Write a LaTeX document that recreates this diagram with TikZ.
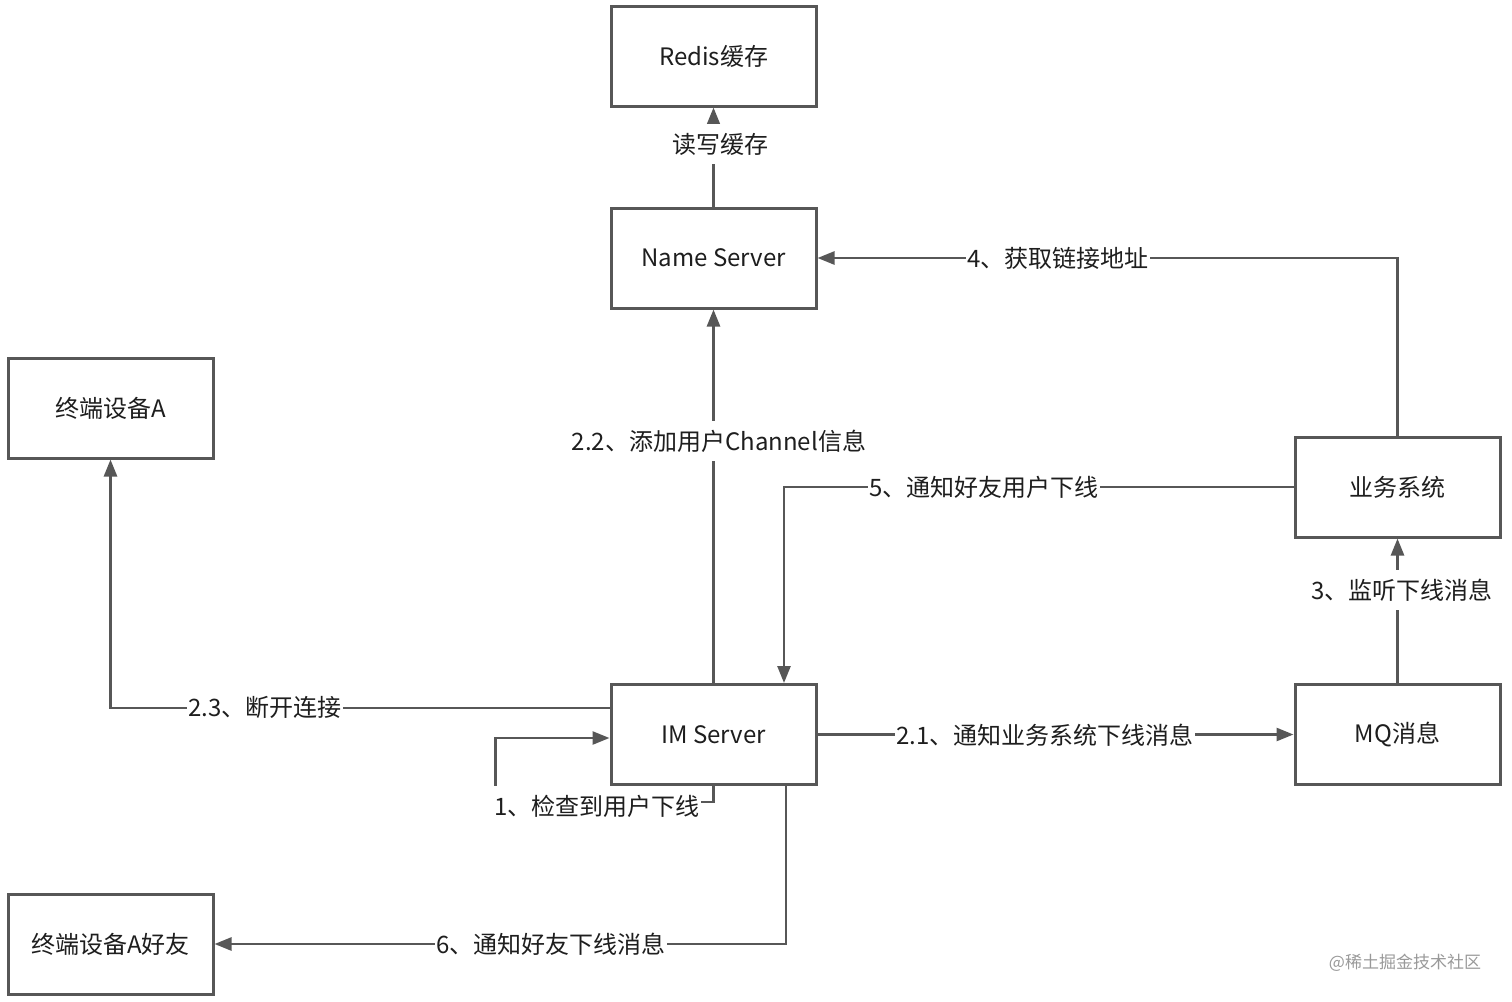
\documentclass[tikz,border=0pt]{standalone}
\usepackage{fontspec}
\newfontfamily\cjk{Noto Sans CJK SC}
\usetikzlibrary{arrows.meta,calc}
\definecolor{edge}{HTML}{575757}
\definecolor{txt}{HTML}{1E1E1E}
\begin{document}
\begin{tikzpicture}[x=1pt,y=-1pt,
  box/.style={draw=edge,line width=3pt,fill=white,minimum width=205pt,minimum height=100pt,inner sep=0pt,font=\cjk\fontsize{24}{28}\selectfont,text=txt},
  conn/.style={draw=edge,line width=2.6pt,-{Triangle[length=17pt,width=13pt]}},
  lbl/.style={fill=white,inner xsep=1pt,inner ysep=9pt,font=\cjk\fontsize{24}{28}\selectfont,text=txt}]
\useasboundingbox (0,0) rectangle (1512,1001);
\node[box] (redis) at (713.5,56) {Redis缓存};
\node[box] (ns) at (713.5,258) {Name Server};
\node[box] (ta) at (110.5,408) {终端设备A};
\node[box] (bus) at (1397.5,487) {业务系统};
\node[box] (im) at (713.5,734.5) {IM Server};
\node[box] (mq) at (1397.5,734.5) {MQ消息};
\node[box] (taf) at (110.5,944) {终端设备A好友};

\draw[conn] (ns.north) -- (redis.south);
\draw[conn] (im.north) -- (ns.south);
\draw[conn] (bus.north) |- (ns.east);
\draw[conn] (bus.west) -| ([xshift=70.5pt]im.north);
\draw[conn] (mq.north) -- (bus.south);
\draw[conn] (im.east) -- (mq.west);
\draw[conn] ([yshift=26.5pt]im.west) -| (ta.south);
\draw[conn] ([xshift=72.5pt]im.south) |- (taf.east);
\draw[conn] (im.south) -- ++(0,16) coordinate (c1) -- ++(-218,0) coordinate (c2) |- ([yshift=-3.5pt]im.west);

\node[lbl] (l0) at (720,144) {读写缓存};
\node[lbl] (l22) at (719,441) {2.2、添加用户Channel信息};
\node[lbl] (l4) at (1058,258) {4、获取链接地址};
\node[lbl] (l5) at (984,487) {5、通知好友用户下线};
\node[lbl] (l3) at (1402,590) {3、监听下线消息};
\node[lbl] (l21) at (1045,735) {2.1、通知业务系统下线消息};
\node[lbl] (l23) at (265,707) {2.3、断开连接};
\node[lbl] (l1) at (597,806) {1、检查到用户下线};
\node[lbl] (l6) at (551,944) {6、通知好友下线消息};
\node[font=\cjk\fontsize{17}{20}\selectfont,text=black!40] (wm) at (1405,963) {@稀土掘金技术社区};
\end{tikzpicture}
\end{document}
